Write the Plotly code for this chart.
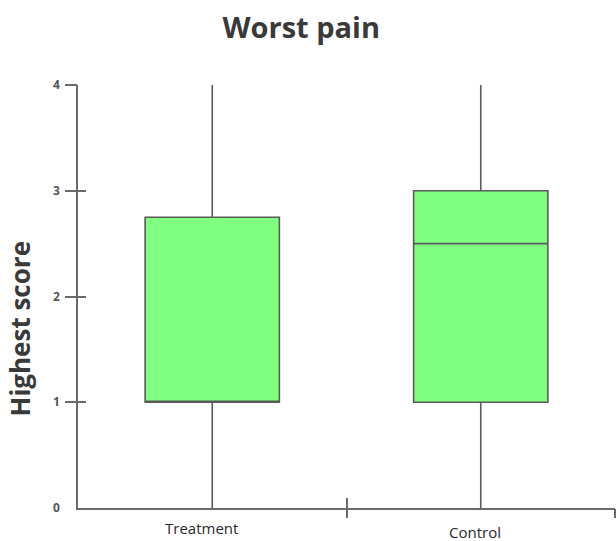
import plotly.graph_objects as go

categories = ["Treatment", "Control"]
lower_fence = [0, 0]
q1 = [1, 1]
median = [1, 2.5]
q3 = [2.75, 3]
upper_fence = [4, 4]
y_ticks = [0, 1, 2, 3, 4]

title_text = "Worst pain"
y_title = "Highest score"

# category boundaries (tick positions between / after the categories)
boundaries = [i + 0.5 for i in range(len(categories))]
x_range = [-0.5, len(categories) - 0.5]

fig = go.Figure()
fig.add_trace(go.Box(
    x=categories,
    lowerfence=lower_fence,
    q1=q1,
    median=median,
    q3=q3,
    upperfence=upper_fence,
    width=0.5,
    fillcolor="#80ff80",
    line=dict(color="#5a5a5a", width=1.6),
    whiskerwidth=0,
    boxpoints=False,
    showlegend=False,
    hoverinfo="skip",
))

axis_col = "#6a6a6a"
common_off = dict(showgrid=False, zeroline=False, showticklabels=False, showline=False)

fig.update_layout(
    width=616,
    height=541,
    margin=dict(l=78, r=1, t=85, b=33),
    paper_bgcolor="white",
    plot_bgcolor="white",
    font=dict(family="Open Sans", color="#3a3a3a"),
    title=dict(
        text=f"<b>{title_text}</b>",
        x=0.489, xref="container", xanchor="center",
        y=0.948, yref="container", yanchor="middle",
        font=dict(size=29, color="#3a3a3a", family="Open Sans"),
    ),
    xaxis=dict(
        type="category",
        categoryorder="array",
        categoryarray=categories,
        range=x_range,
        showline=True, linecolor=axis_col, linewidth=1.5,
        ticks="", showticklabels=False,
        showgrid=False, zeroline=False,
    ),
    xaxis2=dict(overlaying="x", side="bottom", range=x_range,
                tickmode="array", tickvals=boundaries,
                ticks="outside", ticklen=9, tickcolor=axis_col, tickwidth=1.5,
                **common_off),
    xaxis3=dict(overlaying="x", side="bottom", range=x_range,
                tickmode="array", tickvals=boundaries,
                ticks="inside", ticklen=10, tickcolor=axis_col, tickwidth=1.5,
                **common_off),
    yaxis=dict(
        range=[0, 4],
        tickmode="array", tickvals=y_ticks,
        ticktext=[f"<b>{v}</b>" for v in y_ticks],
        showline=True, linecolor=axis_col, linewidth=1.5,
        ticks="", ticklabelstandoff=14,
        tickfont=dict(size=12, color="#555555"),
        showgrid=False, zeroline=False,
    ),
    yaxis2=dict(overlaying="y", side="left", range=[0, 4],
                tickmode="array", tickvals=y_ticks[1:],
                ticks="outside", ticklen=12, tickcolor=axis_col, tickwidth=1.5,
                **common_off),
    yaxis3=dict(overlaying="y", side="left", range=[0, 4],
                tickmode="array", tickvals=y_ticks[1:],
                ticks="inside", ticklen=8, tickcolor=axis_col, tickwidth=1.5,
                **common_off),
)

# empty helper traces so the overlay tick axes get drawn
for ax in ("2", "3"):
    fig.add_trace(go.Scatter(x=[], y=[], xaxis="x" + ax, yaxis="y" + ax,
                             showlegend=False, hoverinfo="skip"))

# y-axis title
fig.add_annotation(
    text=f"<b>{y_title}</b>", textangle=-90,
    xref="paper", yref="paper", x=0, y=0.5, xanchor="center", yanchor="middle",
    xshift=-59, yshift=-32, showarrow=False,
    font=dict(size=26, color="#3a3a3a", family="Open Sans"),
)

# category labels
label_shifts = [(-11, -20), (-6, -24)]
for cat, (xs, ys) in zip(categories, label_shifts):
    fig.add_annotation(
        text=cat, xref="x", yref="paper", x=cat, y=0,
        xanchor="center", yanchor="middle", xshift=xs, yshift=ys,
        showarrow=False, font=dict(size=15, color="#2a2a2a", family="Open Sans"),
    )

fig.write_html("out.html", config={"displayModeBar": False},
               post_script="document.body.style.margin='0px';")
